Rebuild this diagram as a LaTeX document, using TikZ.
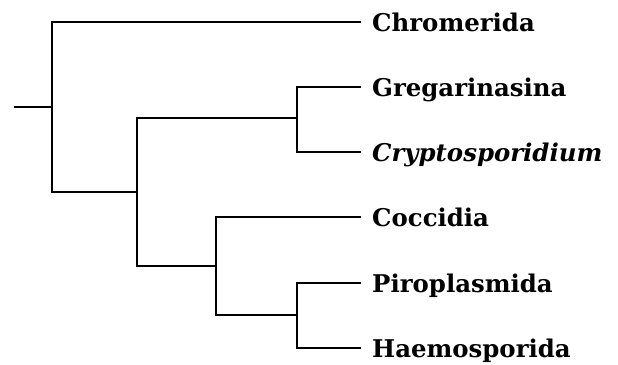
\documentclass[tikz,border=0pt]{standalone}
\usepackage{fontspec}
\setmainfont{DejaVu Serif}
\begin{document}
\begin{tikzpicture}[x=1pt,y=-1pt,
  edge/.style={line width=2.8pt,line cap=rect,line join=miter},
  taxon/.style={anchor=base west,inner sep=0pt,font=\fontsize{24.4}{24.4}\selectfont\bfseries}]
\useasboundingbox (0,0) rectangle (618,364);
% internal nodes
\coordinate (r) at (15,107);
\coordinate (A) at (52,107);
\coordinate (B) at (137,192);
\coordinate (C) at (297,118);
\coordinate (D) at (216,266);
\coordinate (E) at (297,315);
% leaf ends
\coordinate (l1) at (360,22);
\coordinate (l2) at (360,87);
\coordinate (l3) at (360,152);
\coordinate (l4) at (360,217);
\coordinate (l5) at (360,283);
\coordinate (l6) at (360,348);
% labels
\node[taxon] (t1) at (372,31) {Chromerida};
\node[taxon] (t2) at (372,96) {Gregarinasina};
\node[taxon] (t3) at (372,161) {\itshape Cryptosporidium};
\node[taxon] (t4) at (372,226) {Coccidia};
\node[taxon] (t5) at (372,292) {Piroplasmida};
\node[taxon] (t6) at (372,357) {Haemosporida};
% edges
\draw[edge] (r) -- (A);
\draw[edge] (A) |- (l1);
\draw[edge] (A) |- (B);
\draw[edge] (B) |- (C);
\draw[edge] (B) |- (D);
\draw[edge] (C) |- (l2);
\draw[edge] (C) |- (l3);
\draw[edge] (D) |- (l4);
\draw[edge] (D) |- (E);
\draw[edge] (E) |- (l5);
\draw[edge] (E) |- (l6);
\end{tikzpicture}
\end{document}
